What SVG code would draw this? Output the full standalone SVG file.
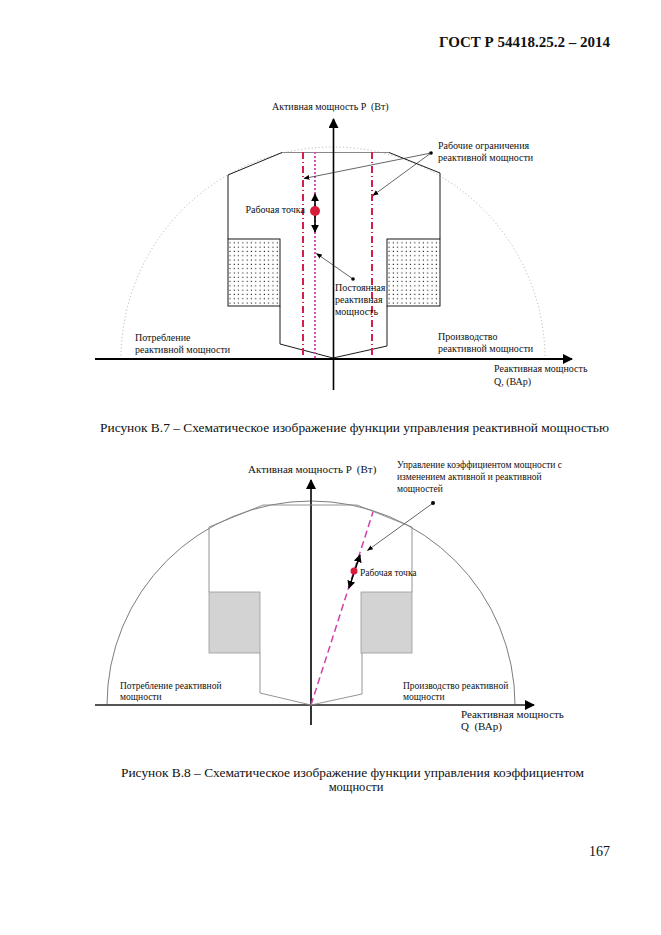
<svg xmlns="http://www.w3.org/2000/svg" width="661" height="935" viewBox="0 0 661 935">
<defs>
<style>
text{font-family:"Liberation Serif","Times New Roman",serif;fill:#111;white-space:pre}
.lbl{font-size:10px}
.lbl2{font-size:9.5px}
.cap{font-size:12.5px}
.ax{stroke:#000;stroke-width:1.6;fill:none}
.poly1{stroke:#000;stroke-width:0.9;fill:none}
.poly2{stroke:#888;stroke-width:0.9;fill:none}
.lead{stroke:#222;stroke-width:0.7;fill:none}
</style>
<pattern id="dots" x="0" y="0" width="4.3" height="4.3" patternUnits="userSpaceOnUse">
<rect x="1.5" y="1.5" width="1.1" height="1.1" fill="#111"/>
</pattern>
<marker id="ah" viewBox="0 0 10 10" refX="9" refY="5" markerWidth="8" markerHeight="8" orient="auto-start-reverse" markerUnits="userSpaceOnUse">
<path d="M0,0 L10,5 L0,10 z" fill="#000"/>
</marker>
<marker id="ahs" viewBox="0 0 10 10" refX="9" refY="5" markerWidth="6" markerHeight="6" orient="auto-start-reverse" markerUnits="userSpaceOnUse">
<path d="M0,1 L10,5 L0,9 z" fill="#000"/>
</marker>
<marker id="ahb" viewBox="0 0 10 10" refX="9" refY="5" markerWidth="10" markerHeight="10" orient="auto-start-reverse" markerUnits="userSpaceOnUse">
<path d="M0,0 L10,5 L0,10 z" fill="#000"/>
</marker>
</defs>
<rect width="661" height="935" fill="#fff"/>

<g id="header">
<text x="610" y="47" text-anchor="end" style="font-size:15px;font-weight:bold">ГОСТ Р 54418.25.2 – 2014</text>
</g>

<!-- Figure B.7 -->
<g id="fig7-arc">
<path d="M121,359 A212,212 0 0 1 545,359" fill="none" stroke="#999" stroke-width="0.8" stroke-dasharray="1,2.5"/>
</g>
<g id="fig7-region">
<rect x="228" y="239" width="52" height="67" fill="url(#dots)" stroke="#000" stroke-width="0.9"/>
<rect x="387" y="239" width="53" height="67" fill="url(#dots)" stroke="#000" stroke-width="0.9"/>
<path class="poly1" d="M228,239 L228,175 L282,152.5"/>
<path d="M282,152.5 L389,152.5" stroke="#888" stroke-width="1.2" fill="none"/>
<path class="poly1" d="M389,152.5 L440,173 L440,239"/>
<path class="poly1" d="M280,306 L280,344 L333,358 L387,346 L387,306"/>
</g>
<g id="fig7-limits">
<line x1="303" y1="152" x2="303" y2="359" stroke="#d61e4a" stroke-width="2" stroke-dasharray="7,3,1,3"/>
<line x1="372" y1="152" x2="372" y2="359" stroke="#d61e4a" stroke-width="2" stroke-dasharray="7,3,1,3"/>
<line x1="315" y1="152" x2="315" y2="359" stroke="#d84fc0" stroke-width="2" stroke-dasharray="2,2"/>
</g>
<g id="fig7-point">
<line x1="315" y1="194" x2="315" y2="232" stroke="#000" stroke-width="1.6" marker-start="url(#ah)" marker-end="url(#ah)"/>
<circle cx="315" cy="211" r="5" fill="#d61e3a"/>
<text class="lbl" x="305" y="213" text-anchor="end">Рабочая точка</text>
</g>
<g id="fig7-labels">
<text class="lbl" x="272" y="110">Активная мощность P  (Вт)</text>
<text class="lbl" x="438" y="149">Рабочие ограничения</text>
<text class="lbl" x="438" y="161">реактивной мощности</text>
<text class="lbl" x="335" y="291">Постоянная</text>
<text class="lbl" x="335" y="303">реактивная</text>
<text class="lbl" x="335" y="315">мощность</text>
<text class="lbl" x="135" y="341">Потребление</text>
<text class="lbl" x="135" y="353">реактивной мощности</text>
<text class="lbl" x="438" y="340">Производство</text>
<text class="lbl" x="438" y="352">реактивной мощности</text>
<text class="lbl" x="494" y="372">Реактивная мощность</text>
<text class="lbl" x="494" y="385">Q, (ВАр)</text>
</g>
<g id="connectors">
<line class="ax" x1="333.5" y1="390" x2="333.5" y2="119" marker-end="url(#ahb)"/>
<line x1="95" y1="359" x2="572" y2="359" stroke="#000" stroke-width="2" marker-end="url(#ahb)"/>
<circle cx="431" cy="153" r="1.8" fill="#000"/>
<line class="lead" x1="431" y1="153" x2="304" y2="178.5" marker-end="url(#ahs)"/>
<line class="lead" x1="431" y1="153" x2="373" y2="195.5" marker-end="url(#ahs)"/>
<circle cx="353" cy="279" r="1.8" fill="#000"/>
<line class="lead" x1="353" y1="279" x2="316.5" y2="253.5" marker-end="url(#ahs)"/>

<line x1="311" y1="725" x2="311" y2="480" stroke="#000" stroke-width="1.6" marker-end="url(#ahb)"/>
<line x1="95" y1="705" x2="534" y2="705" stroke="#555" stroke-width="2" marker-end="url(#ahb)"/>
<circle cx="433" cy="503" r="2" fill="#000"/>
<line class="lead" x1="433" y1="503" x2="367.5" y2="550.5" marker-end="url(#ahs)"/>
</g>
<g id="fig7-caption">
<text class="cap" x="100" y="432" textLength="509" lengthAdjust="spacingAndGlyphs">Рисунок В.7 – Схематическое изображение функции управления реактивной мощностью</text>
</g>

<!-- Figure B.8 -->
<g id="fig8-arc">
<path d="M107,705 A204,204 0 0 1 515,705" fill="none" stroke="#444" stroke-width="0.7"/>
</g>
<g id="fig8-region">
<rect x="209" y="592" width="51" height="61" fill="#d3d3d3" stroke="#999" stroke-width="0.8"/>
<rect x="361" y="592" width="51" height="61" fill="#d3d3d3" stroke="#999" stroke-width="0.8"/>
<path class="poly2" d="M209,592 L209,527 L263,505 L357,505 L412,527 L412,592"/>
<path class="poly2" d="M260,653 L260,693 L311,705 L362,694 L362,653"/>
</g>
<g id="fig8-line">
<line x1="311" y1="705" x2="373" y2="512" stroke="#d040a8" stroke-width="1.5" stroke-dasharray="7,4"/>
</g>
<g id="fig8-point">
<line x1="360" y1="555" x2="349" y2="588" stroke="#000" stroke-width="1.5" marker-start="url(#ah)" marker-end="url(#ah)"/>
<circle cx="354" cy="571" r="3.5" fill="#d61e3a"/>
<text class="lbl2" x="360" y="576">Рабочая точка</text>
</g>
<g id="fig8-labels">
<text x="248" y="473" style="font-size:11px">Активная мощность P  (Вт)</text>
<text class="lbl2" x="397" y="468">Управление коэффициентом мощности с</text>
<text class="lbl2" x="397" y="480">изменением активной и реактивной</text>
<text class="lbl2" x="397" y="492">мощностей</text>
<text class="lbl2" x="120" y="689">Потребление реактивной</text>
<text class="lbl2" x="120" y="700">мощности</text>
<text class="lbl2" x="403" y="689">Производство реактивной</text>
<text class="lbl2" x="403" y="700">мощности</text>
<text x="461" y="718" style="font-size:11px">Реактивная мощность</text>
<text x="461" y="730" style="font-size:11px">Q  (ВАр)</text>
</g>
<g id="fig8-caption">
<text class="cap" x="121" y="777" textLength="463" lengthAdjust="spacingAndGlyphs">Рисунок В.8 – Схематическое изображение функции управления коэффициентом</text>
<text class="cap" x="356" y="791" text-anchor="middle">мощности</text>
</g>
<g id="page-number">
<text x="610" y="856" text-anchor="end" style="font-size:14px">167</text>
</g>
</svg>
